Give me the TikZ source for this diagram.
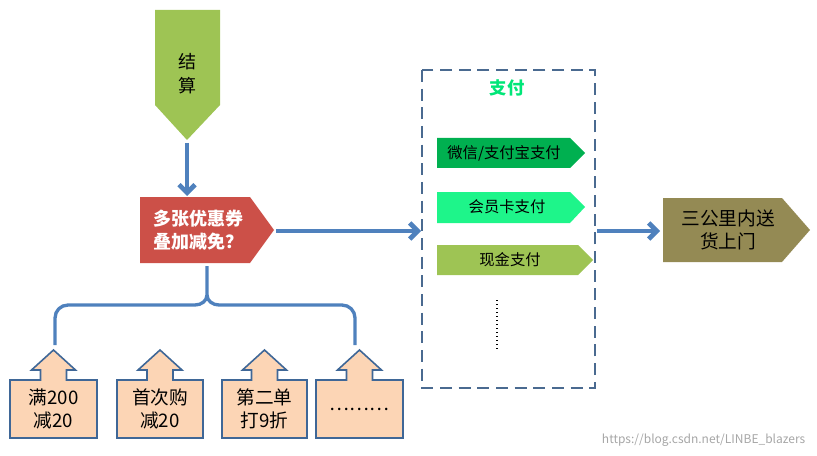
\documentclass[tikz,border=0pt]{standalone}
\usepackage{fontspec}
\setmainfont{Noto Sans CJK SC}
\usetikzlibrary{arrows.meta}
\definecolor{bl}{HTML}{4F81BD}
\definecolor{peach}{HTML}{FCD5B5}
\tikzset{
 conn/.style={bl,line width=3.5pt,-{Straight Barb[length=6pt,width=12pt]}},
 lbl/.style={align=center,font=\fontsize{11}{14}\selectfont},
 callout/.style={fill=peach,draw=bl!80!black,line width=1.2pt,line join=miter},
}
\begin{document}
\begin{tikzpicture}[x=0.75pt,y=-0.75pt]
\useasboundingbox (0,0) rectangle (817,456);
% settle
\fill[fill={rgb,255:red,158;green,196;blue,84}] (155,10) -- (220,10) -- (220,105) -- (187,140) -- (155,105) -- cycle;
\node[lbl,font=\fontsize{13.5}{18}\selectfont] (js) at (187,74) {结\\算};
\coordinate (jsb) at (187,143);
% coupon
\fill[fill={rgb,255:red,204;green,80;blue,72}] (140,197) -- (250,197) -- (274,230) -- (250,263) -- (140,263) -- cycle;
\node[lbl,text=white,font=\bfseries\fontsize{13.5}{17}\selectfont] (cp) at (198,230) {多张优惠券\\叠加减免？};
\coordinate (cpt) at (187,196);
\draw[conn] (jsb) -- (cpt);
\coordinate (cpr) at (276,231);
\coordinate (payl) at (421,231);
\draw[conn] (cpr) -- (payl);
% brace
\coordinate (br) at (207,266);
\draw[bl,line width=2.5pt] (br) -- (207,295) to[out=-90,in=0] (195,305) -- (68,305) to[out=180,in=90] (55,318) -- (55,345);
\draw[bl,line width=2.5pt] (207,295) to[out=-90,in=180] (219,305) -- (342,305) to[out=0,in=90] (355,318) -- (355,345);
% callouts
\foreach \l/\r/\t/\n in {10/97/{满200\\减20}/c1,117/203/{首次购\\减20}/c2,222/307/{第二单\\打9折}/c3,316/403/{………}/c4}{
 \pgfmathsetmacro\m{(\l+\r)/2}
 \draw[callout] (\l,380) -- (\m-13,380) -- (\m-13,370) -- (\m-22,370) -- (\m,350) -- (\m+22,370) -- (\m+13,370) -- (\m+13,380) -- (\r,380) -- (\r,438) -- (\l,438) -- cycle;
 \node[lbl,font=\fontsize{14}{17}\selectfont] (\n) at (\m,409) {\t};
}
% pay box
\draw[color={rgb,255:red,74;green,106;blue,144},line width=1.8pt,dash pattern=on 9pt off 5pt] (422,70) rectangle (595,388);
\node[font=\bfseries\fontsize{13}{15}\selectfont,text={rgb,255:red,0;green,230;blue,120}] (zf) at (507,88) {支付};
\fill[fill={rgb,255:red,0;green,176;blue,80}] (437,138) -- (570,138) -- (585,153) -- (570,168) -- (437,168) -- cycle;
\node[lbl,font=\fontsize{11.5}{14}\selectfont] (p1) at (504,153) {微信/支付宝支付};
\fill[fill={rgb,255:red,30;green,245;blue,138}] (437,192) -- (570,192) -- (585,207) -- (570,223) -- (437,223) -- cycle;
\node[lbl,font=\fontsize{11.5}{14}\selectfont] (p2) at (507,207) {会员卡支付};
\fill[fill={rgb,255:red,158;green,196;blue,84}] (437,245) -- (578,245) -- (593,260) -- (578,275) -- (437,275) -- cycle;
\node[lbl,font=\fontsize{11.5}{14}\selectfont] (p3) at (510,260) {现金支付};
\draw[line width=1.2pt,dash pattern=on 1pt off 2pt] (497,300) -- (497,352);
\coordinate (payr) at (597,231);
% delivery
\fill[fill={rgb,255:red,148;green,138;blue,84}] (663,198) -- (782,198) -- (810,230) -- (782,262) -- (663,262) -- cycle;
\node[lbl,font=\fontsize{14}{17}\selectfont] (dl) at (728,230) {三公里内送\\货上门};
\coordinate (dll) at (660,231);
\draw[conn] (payr) -- (dll);
\node[text=gray!70,font=\fontsize{9}{11}\selectfont,anchor=east] (wm) at (810,440) {https://blog.csdn.net/LINBE\_blazers};
\end{tikzpicture}
\end{document}
